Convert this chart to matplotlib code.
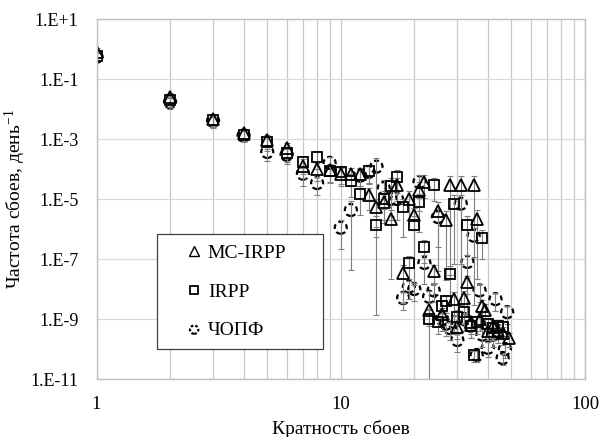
import numpy as np
import matplotlib.pyplot as plt
from matplotlib.lines import Line2D
from matplotlib.patches import Rectangle

plt.rcParams['font.family'] = ['Liberation Serif', 'DejaVu Serif']
plt.rcParams['mathtext.fontset'] = 'custom'
plt.rcParams['mathtext.rm'] = 'Liberation Serif'
plt.rcParams['mathtext.it'] = 'Liberation Serif:italic'

# MC-IRPP (triangles)
tri_x = [1, 2, 3, 4, 5, 6, 7, 8, 9, 10, 11, 12, 13, 14, 15, 16, 17, 18, 19, 20,
         21, 22, 23, 24, 25, 26, 27, 28, 29, 30, 31, 32, 33, 34, 35, 36, 37, 38,
         39, 40, 42, 44, 46, 49]
tri_y = [0.8, 0.025, 0.0045, 0.0016, 9e-4, 5e-4, 1.3e-4, 1.0e-4, 9e-5, 7e-5,
         7e-5, 7e-5, 1.4e-5, 5.4e-6, 7.9e-6, 2.2e-6, 2.9e-5, 3.4e-8, 1e-5, 3e-6,
         2e-5, 3.7e-5, 2e-9, 4e-8, 4e-6, 1.5e-9, 2e-6, 2.9e-5, 4.6e-9, 5.4e-10,
         2.9e-5, 5e-9, 1.7e-8, 8e-10, 2.9e-5, 2.2e-6, 1e-9, 2.7e-9, 2e-9, 4e-10,
         6e-10, 4e-10, 3.5e-10, 2.3e-10]
tri_err = [0.3, 0.4, 0.4, 0.4, 0.5, 0.5, 0.6, 0.6, 0.6, 0.6,
           0.6, 0.6, 0.7, 0.9, 0.8, 0.99, 0.7, 0.9, 0.8, 0.7,
           0.8, 0.7, 0.7, 0.6, 0.99, 0.6, 0.99, 0.999, 0.7, 0.6,
           0.9999, 0.7, 0.6, 0.6, 0.9999, 0.99, 0.6, 0.6, 0.6, 0.5,
           0.6, 0.6, 0.6, 0.5]

# IRPP (squares)
sq_x = [1, 2, 3, 4, 5, 6, 7, 8, 9, 10, 11, 12, 13, 14, 15, 16, 17, 18, 19, 20,
        21, 22, 23, 24, 25, 26, 27, 28, 29, 30, 32, 33, 34, 35, 36, 38, 40, 42,
        44, 46]
sq_y = [0.6, 0.02, 0.0042, 0.0014, 8e-4, 3.5e-4, 1.7e-4, 2.5e-4, 8.6e-5, 8e-5,
        4e-5, 1.5e-5, 8.6e-5, 1.4e-6, 1e-5, 2.7e-5, 5.4e-5, 5.4e-6, 7.4e-8, 1.4e-6,
        8e-6, 2.5e-7, 1e-9, 2.9e-5, 8e-10, 2.7e-9, 4e-9, 3.2e-8, 7e-6, 1.2e-9,
        1.7e-9, 1.4e-6, 6e-10, 6.3e-11, 8e-10, 5e-7, 7e-10, 5e-10, 6e-10, 5.4e-10]
sq_err = [0.3, 0.4, 0.4, 0.4, 0.5, 0.5, 0.6, 0.6, 0.6, 0.6,
          0.7, 0.8, 0.6, 0.999, 0.8, 0.9, 0.7, 0.9, 0.7, 0.99,
          0.9, 0.7, 0.99, 0.7, 0.6, 0.6, 0.6, 0.8, 0.99, 0.7,
          0.6, 0.999, 0.6, 0.4, 0.6, 0.8, 0.6, 0.6, 0.6, 0.5]

# ЧОПФ (dashed circles)
ci_x = [1, 2, 3, 4, 5, 6, 7, 8, 9, 10, 11, 12, 13, 14, 15, 16, 17, 18, 19, 20,
        21, 22, 23, 24, 25, 26, 27, 28, 29, 30, 31, 32, 33, 34, 35, 36, 37, 38,
        40, 42, 43, 44, 46, 47, 48]
ci_y = [0.55, 0.017, 0.004, 0.0013, 3.7e-4, 3e-4, 7e-5, 3.4e-5, 1.6e-4, 1.1e-6,
        4.3e-6, 6e-5, 8e-5, 1.2e-4, 2.3e-5, 1e-5, 1e-5, 5e-9, 1.2e-8, 1e-8,
        3.7e-5, 7.4e-8, 5.5e-9, 9e-9, 2.5e-6, 1e-9, 7e-10, 5e-10, 8e-10, 2e-10,
        7e-6, 1e-9, 8e-8, 6e-10, 6e-7, 6.3e-11, 9e-9, 3e-10, 1.1e-10, 3e-10,
        4.6e-9, 4e-10, 5e-11, 1e-10, 1.7e-9]
ci_err = [0.3, 0.4, 0.4, 0.4, 0.5, 0.5, 0.6, 0.6, 0.6, 0.8,
          0.99, 0.6, 0.6, 0.99, 0.8, 0.8, 0.8, 0.6, 0.6, 0.6,
          0.7, 0.8, 0.6, 0.6, 0.9, 0.6, 0.6, 0.6, 0.6, 0.6,
          0.99, 0.6, 0.7, 0.6, 0.8, 0.4, 0.6, 0.6, 0.5, 0.6,
          0.6, 0.6, 0.4, 0.5, 0.6]

y_ticks = [1e1, 1e-1, 1e-3, 1e-5, 1e-7, 1e-9, 1e-11]
y_tick_labels = ['1.E+1', '1.E-1', '1.E-3', '1.E-5', '1.E-7', '1.E-9', '1.E-11']
x_ticks = [1, 10, 100]
x_tick_labels = ['1', '10', '100']

fig = plt.figure(figsize=(6.02, 4.37), dpi=100)
ax = fig.add_axes([0.1603, 0.1327, 0.8115, 0.8238])
ax.set_xscale('log')
ax.set_yscale('log')
ax.set_xlim(1, 100)
ax.set_ylim(1e-11, 1e1)

# grid
ax.set_xticks([v * d for d in (1, 10) for v in range(2, 10)], minor=True)
ax.set_xticks(x_ticks)
ax.set_xticklabels(x_tick_labels, fontsize=13.5)
ax.set_yticks(y_ticks)
ax.set_yticklabels(y_tick_labels, fontsize=13)
ax.yaxis.set_minor_locator(plt.NullLocator())
ax.xaxis.set_minor_formatter(plt.NullFormatter())
ax.grid(True, which='both', axis='x', color='#c8c8c8', lw=0.9)
ax.grid(True, which='major', axis='y', color='#d9d9d9', lw=0.9)
ax.tick_params(axis='x', which='both', length=0, pad=12)
ax.tick_params(axis='y', which='both', length=0, pad=13)
for s in ax.spines.values():
    s.set_color('#bfbfbf')
    s.set_linewidth(1.0)
ax.set_axisbelow(True)

ebkw = dict(fmt='none', ecolor='#7f7f7f', elinewidth=0.8, capsize=2.5, capthick=0.8)
for xs, ys, fr in [(tri_x, tri_y, tri_err), (sq_x, sq_y, sq_err), (ci_x, ci_y, ci_err)]:
    ys = np.array(ys)
    e = np.array(fr) * ys
    ax.errorbar(xs, ys, yerr=[e, e], **ebkw)

ax.plot(tri_x, tri_y, ls='none', marker='^', ms=9, mfc='none', mec='k', mew=1.3)
ax.plot(sq_x, sq_y, ls='none', marker='s', ms=7.5, mfc='none', mec='k', mew=1.3)
ax.scatter(ci_x, ci_y, marker='o', s=75, facecolors='none', edgecolors='k',
           linewidths=1.6, linestyle=(0, (2.2, 1.5)))

ax.set_xlabel('Кратность сбоев', fontsize=14, labelpad=5)
ax.set_ylabel('Частота сбоев, день$^{\\mathrm{-1}}$', fontsize=14, labelpad=2)

handles = [
    Line2D([], [], ls='none', marker='^', ms=7, mfc='none', mec='k', mew=1.0),
    Line2D([], [], ls='none', marker='s', ms=6, mfc='none', mec='k', mew=1.3),
    ax.scatter([], [], marker='o', s=36, facecolors='none', edgecolors='k',
               linewidths=1.6, linestyle=(0, (1.2, 0.9))),
]
leg = ax.legend(handles, ['MC-IRPP', 'IRPP', 'ЧОПФ'], loc='center left',
                bbox_to_anchor=(0.184, 0.2425), fontsize=14, frameon=False,
                handlelength=0.8, handletextpad=0.3, labelspacing=1.06,
                borderpad=0, borderaxespad=0, scatterpoints=1)
ax.add_patch(Rectangle((0.1238, 0.0833), 0.3398, 0.3194, transform=ax.transAxes,
                       facecolor='white', edgecolor='#404040', lw=0.9, zorder=4.9))

fig.savefig('out.png', dpi=100)
